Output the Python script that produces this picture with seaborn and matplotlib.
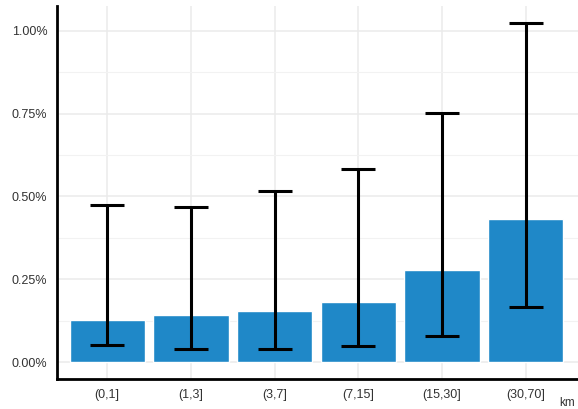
import matplotlib
matplotlib.use("Agg")
import matplotlib.pyplot as plt
import seaborn as sns
import pandas as pd
from matplotlib.ticker import FuncFormatter, MultipleLocator

# Distance bins and estimated rates (in %) with lower/upper bounds
bins = ["(0,1]", "(1,3]", "(3,7]", "(7,15]", "(15,30]", "(30,70]"]
rate = [0.126, 0.142, 0.153, 0.181, 0.279, 0.432]
lower = [0.053, 0.039, 0.041, 0.050, 0.079, 0.165]
upper = [0.474, 0.469, 0.517, 0.582, 0.753, 1.024]

df = pd.DataFrame({"bin": bins, "rate": rate, "lower": lower, "upper": upper})

sns.set_style("white")
plt.rcParams["font.family"] = ["Liberation Sans", "DejaVu Sans"]

fig = plt.figure(figsize=(5.78, 4.09), dpi=100)
ax = fig.add_axes([57 / 578, 30 / 409, 1 - 57 / 578, 373 / 409])

sns.barplot(data=df, x="bin", y="rate", color="#1f88c8", width=0.9,
            errorbar=None, saturation=1, ax=ax, zorder=2)

xs = range(len(df))
ax.errorbar(xs, df["rate"],
            yerr=[df["rate"] - df["lower"], df["upper"] - df["rate"]],
            fmt="none", ecolor="black", elinewidth=2.2, capsize=12.2,
            capthick=2.2, zorder=3)

ax.set_xlim(-0.6, 5.625)
ax.set_ylim(-0.051, 1.075)
ax.yaxis.set_major_locator(MultipleLocator(0.25))
ax.yaxis.set_minor_locator(MultipleLocator(0.125))
ax.yaxis.set_major_formatter(FuncFormatter(lambda v, p: f"{v:.2f}%"))

ax.grid(True, which="major", color="#ebebeb", linewidth=1.1, zorder=0)
ax.grid(True, which="minor", axis="y", color="#f2f2f2", linewidth=0.8, zorder=0)
ax.set_axisbelow(True)

for side in ["top", "right"]:
    ax.spines[side].set_visible(False)
for side in ["left", "bottom"]:
    ax.spines[side].set_color("black")
    ax.spines[side].set_linewidth(2)

ax.tick_params(axis="x", direction="in", length=6, width=2, color="black",
               pad=7, labelsize=9, labelcolor="#333333")
ax.tick_params(axis="y", which="both", length=0, pad=7, labelsize=9,
               labelcolor="#333333")

ax.set_xlabel("")
ax.set_ylabel("")
fig.text(567 / 578, 0, "km", fontsize=8.5, color="#333333",
         ha="center", va="bottom")

fig.savefig("out.png", dpi=100)
